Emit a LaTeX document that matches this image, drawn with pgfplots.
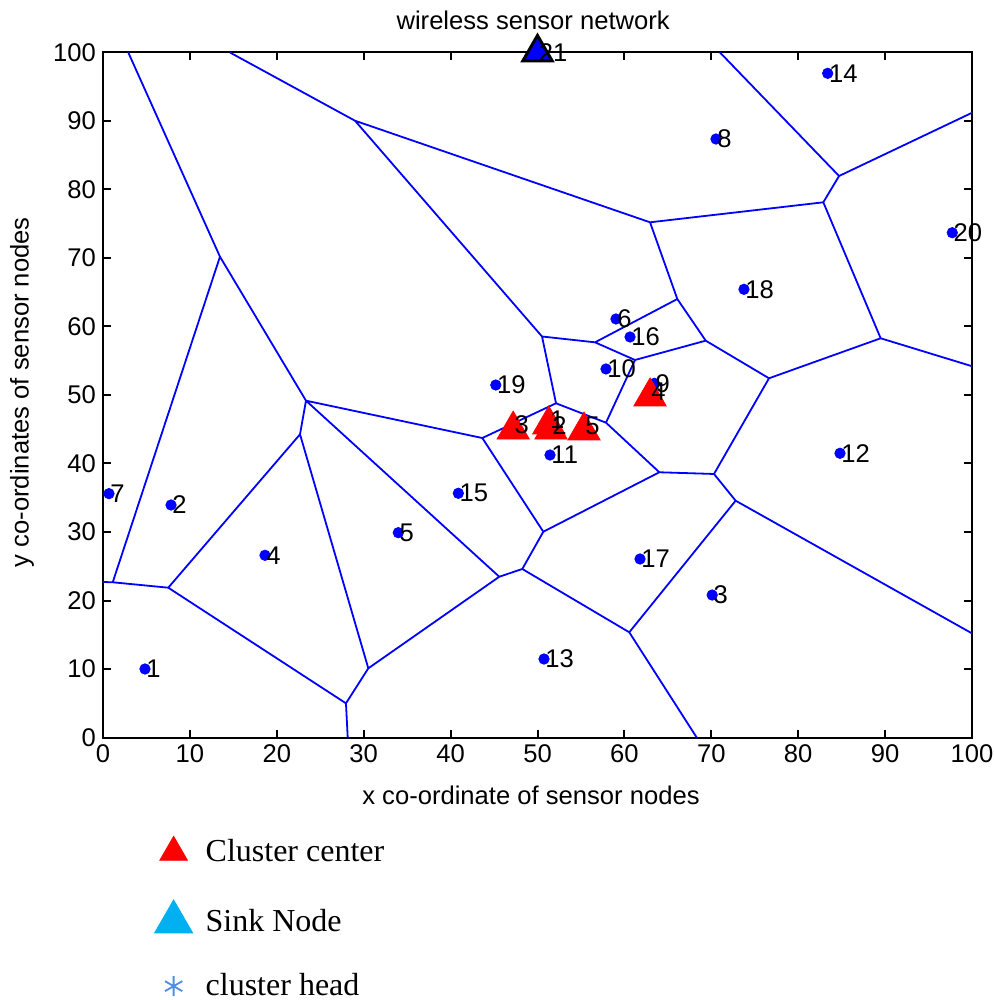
\documentclass[border=0pt]{standalone}
\usepackage{fontspec}
\setmainfont{Liberation Sans}
\newfontfamily\legfont{Liberation Serif}
\usepackage{pgfplots}
\pgfplotsset{compat=1.18}
\usepackage{pgfplotstable}
\definecolor{sinkcyan}{RGB}{0,176,240}
\definecolor{headblue}{RGB}{80,140,225}

\pgfplotstableread{
x y label
4.83 10.0 1
7.83 33.94 2
70.1 20.8 3
18.64 26.6 4
33.98 29.9 5
59.03 61.1 6
0.69 35.6 7
70.54 87.37 8
63.44 51.7 9
57.88 53.8 10
51.44 41.24 11
84.81 41.49 12
50.75 11.46 13
83.39 96.96 14
40.89 35.65 15
60.65 58.47 16
61.8 26.06 17
73.76 65.43 18
45.2 51.46 19
97.73 73.69 20
}\nodes

\pgfplotstableread{
x y label
47.2 45.6 3
51.3 46.35 1
51.55 45.6 2
55.35 45.47 5
62.95 50.44 4
}\centers

\pgfplotstableread{
x y label
50 100 21
}\sink

\pgfplotstableread{
x y
0 22.7
1.12 22.66
13.46 70.19
2.91 100
nan nan
13.46 70.19
23.36 49.17
nan nan
1.12 22.66
7.51 21.87
22.67 44.26
23.36 49.17
nan nan
7.51 21.87
27.96 4.99
28.16 0
nan nan
27.96 4.99
30.53 10.1
22.67 44.26
nan nan
30.53 10.1
45.6 23.47
23.36 49.17
nan nan
45.6 23.47
48.25 24.6
50.67 30.04
43.65 43.72
23.36 49.17
nan nan
48.25 24.6
60.56 15.36
68.32 0
nan nan
60.56 15.36
72.8 34.57
100 15.2
nan nan
72.8 34.57
70.31 38.47
64.02 38.72
50.67 30.04
nan nan
64.02 38.72
57.88 45.96
52.13 48.79
43.65 43.72
nan nan
52.13 48.79
50.52 58.54
29.0 90.04
14.61 100
nan nan
29.0 90.04
62.95 75.21
82.89 78.13
84.7 81.97
71.0 100
nan nan
84.7 81.97
100 91.2
nan nan
82.89 78.13
89.49 58.28
100 54.2
nan nan
89.49 58.28
76.64 52.44
70.31 38.47
nan nan
76.64 52.44
69.36 57.93
66.09 64.01
62.95 75.21
nan nan
66.09 64.01
56.62 57.69
50.52 58.54
nan nan
56.62 57.69
61.22 55.11
69.36 57.93
nan nan
61.22 55.11
57.88 45.96
}\edges

\begin{document}
\begin{tikzpicture}
\begin{axis}[
  scale only axis,
  width=434.5pt, height=342.5pt,
  xmin=0, xmax=100, ymin=0, ymax=100,
  xtick={0,10,...,100}, ytick={0,10,...,100},
  tick align=inside,
  major tick length=4pt,
  tick style={black, line width=1pt},
  axis line style={black, line width=1pt},
  clip=false,
  unbounded coords=jump,
  /pgf/number format/assume math mode=true,
  tick label style={font=\fontsize{12.8}{15}\selectfont},
  label style={font=\fontsize{12.8}{15}\selectfont},
  title style={font=\fontsize{12.8}{15}\selectfont, at={(axis description cs:0.495,1.030)}, anchor=center},
  title={wireless sensor network},
  xlabel={x co-ordinate of sensor nodes},
  ylabel={y co-ordinates of sensor nodes},
  xlabel style={at={(axis description cs:0.4925,-0.084)}, anchor=center},
  ylabel style={at={(axis description cs:-0.0932,0.504)}, anchor=center},
  legend style={draw=none, fill=none, at={(axis description cs:0.052,-0.137)}, anchor=north west,
    font=\legfont\fontsize{16}{19}\selectfont, row sep=15.5pt,
    /tikz/every odd column/.append style={column sep=4.5pt}},
  legend cell align=left,
]
\addplot[forget plot, blue, line width=0.9pt] table[x=x, y=y] {\edges};
\addplot[forget plot, only marks, mark=*, mark size=2.6pt, blue] table[x=x, y=y] {\nodes};
\addplot[forget plot, only marks, mark=triangle*, mark size=9.3pt, red, mark options={yshift=-2.3pt}] table[x=x, y=y] {\centers};
\addplot[forget plot, only marks, mark=triangle*, mark size=8.5pt, mark options={draw=black, fill=blue, line width=1.5pt}] table[x=x, y=y] {\sink};
\addplot[forget plot, only marks, mark=none, nodes near coords, point meta=explicit symbolic,
  nodes near coords style={anchor=west, inner sep=0pt, xshift=0.5pt, font=\fontsize{12.8}{15}\selectfont, text=black}]
  table[x=x, y=y, meta=label] {\nodes};
\addplot[forget plot, only marks, mark=none, nodes near coords, point meta=explicit symbolic,
  nodes near coords style={anchor=west, inner sep=0pt, xshift=0.5pt, font=\fontsize{12.8}{15}\selectfont, text=black}]
  table[x=x, y=y, meta=label] {\centers};
\addplot[forget plot, only marks, mark=none, nodes near coords, point meta=explicit symbolic,
  nodes near coords style={anchor=west, inner sep=0pt, xshift=0.5pt, font=\fontsize{12.8}{15}\selectfont, text=black}]
  table[x=x, y=y, meta=label] {\sink};
\addlegendimage{only marks, mark=triangle*, mark size=8pt, red}
\addlegendentry{Cluster center}
\addlegendimage{only marks, mark=triangle*, mark size=11pt, sinkcyan}
\addlegendentry{Sink Node}
\addlegendimage{only marks, mark=asterisk, mark size=5pt, headblue, line width=0.9pt}
\addlegendentry{cluster head}
\end{axis}
\pgfresetboundingbox
\path[use as bounding box] (-51.5pt,-131.25pt) rectangle (445.5pt,368.75pt);
\end{tikzpicture}
\end{document}
